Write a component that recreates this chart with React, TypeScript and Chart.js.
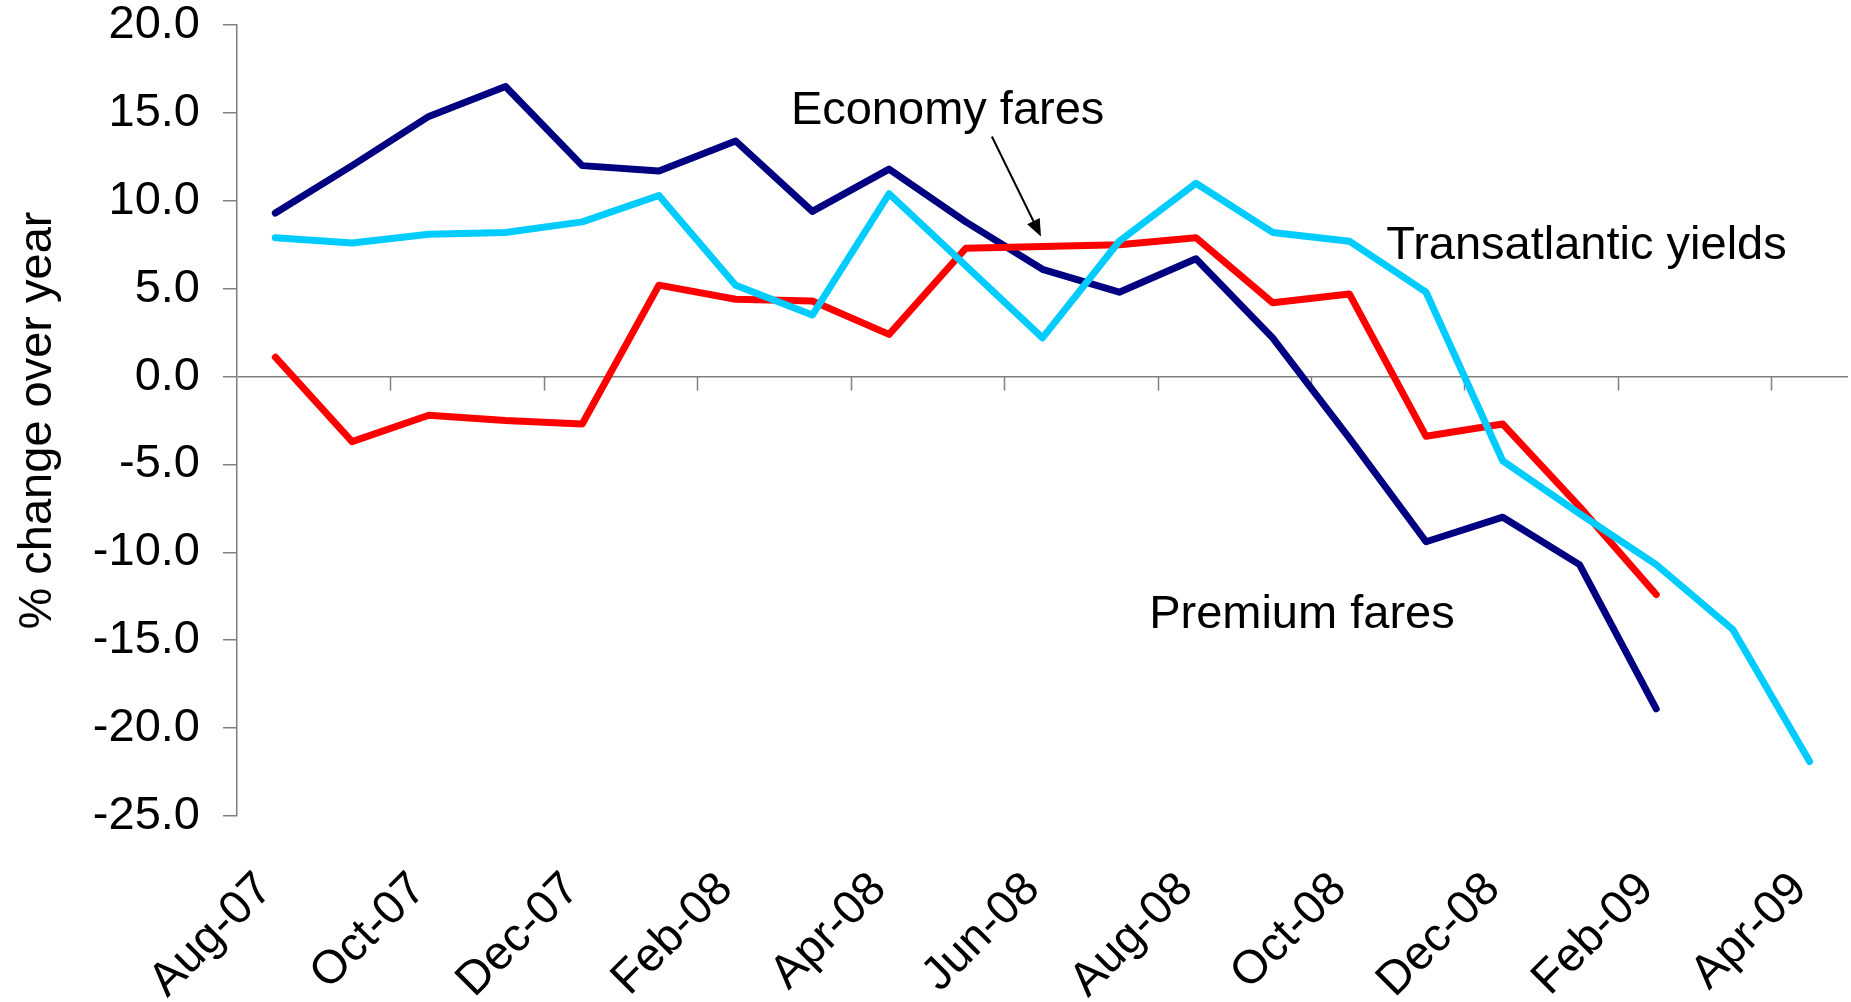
import React, { useEffect, useRef } from 'react';
import { Chart, registerables } from 'chart.js';

Chart.register(...registerables);

const months = [
  'Aug-07', 'Sep-07', 'Oct-07', 'Nov-07', 'Dec-07', 'Jan-08', 'Feb-08', 'Mar-08', 'Apr-08', 'May-08',
  'Jun-08', 'Jul-08', 'Aug-08', 'Sep-08', 'Oct-08', 'Nov-08', 'Dec-08', 'Jan-09', 'Feb-09', 'Mar-09', 'Apr-09',
];

const premiumFares = [9.3, 12.0, 14.8, 16.5, 12.0, 11.7, 13.4, 9.4, 11.8, 8.8, 6.1, 4.8, 6.7, 2.2, -3.5, -9.4, -8.0, -10.7, -18.9, null, null];
const economyFares = [1.1, -3.7, -2.2, -2.5, -2.7, 5.2, 4.4, 4.3, 2.4, 7.3, 7.4, 7.5, 7.9, 4.2, 4.7, -3.4, -2.7, -7.4, -12.4, null, null];
const transatlanticYields = [7.9, 7.6, 8.1, 8.2, 8.8, 10.3, 5.2, 3.5, 10.4, 6.3, 2.2, 7.7, 11.0, 8.2, 7.7, 4.8, -4.8, -7.8, -10.7, -14.4, -21.9];

const yMin = -25;
const yMax = 20;
const yStep = 5;
const yTitle = '% change over year';

// annotation labels: text, category position, value at baseline
const noteTexts = ['Economy fares', 'Transatlantic yields', 'Premium fares'];
const notePositions = [6.72, 14.48, 11.39];
const noteValues = [14.34, 6.66, -14.29];
// arrow from / to (category position, value)
const arrowFrom = [9.34, 13.66];
const arrowTo = [9.98, 7.97];

const FONT = '"Liberation Sans", Arial, Helvetica, sans-serif';
const FONT_SIZE = 47;
const AXIS_COLOR = '#808080';

const overlayPlugin = {
  id: 'overlay',
  beforeDatasetsDraw(chart: any) {
    const { ctx, scales } = chart;
    const x = scales.x;
    const y = scales.y;
    const y0 = y.getPixelForValue(0);
    ctx.save();
    ctx.strokeStyle = AXIS_COLOR;
    ctx.lineWidth = 1.5;
    for (let i = 2; i < months.length; i += 2) {
      const px = Math.round(x.getPixelForValue(i - 0.5)) + 0.5;
      ctx.beginPath();
      ctx.moveTo(px, y0);
      ctx.lineTo(px, y0 + 14);
      ctx.stroke();
    }
    ctx.restore();
  },
  afterDatasetsDraw(chart: any) {
    const { ctx, scales } = chart;
    const x = scales.x;
    const y = scales.y;
    ctx.save();
    ctx.fillStyle = '#000';
    ctx.font = `${FONT_SIZE}px ${FONT}`;
    ctx.textAlign = 'left';
    ctx.textBaseline = 'alphabetic';
    noteTexts.forEach((t, i) => {
      ctx.fillText(t, x.getPixelForValue(notePositions[i]), y.getPixelForValue(noteValues[i]));
    });
    const x1 = x.getPixelForValue(arrowFrom[0]);
    const y1 = y.getPixelForValue(arrowFrom[1]);
    const x2 = x.getPixelForValue(arrowTo[0]);
    const y2 = y.getPixelForValue(arrowTo[1]);
    const ang = Math.atan2(y2 - y1, x2 - x1);
    const headLen = 17;
    const headHalf = 7;
    const bx = x2 - headLen * Math.cos(ang);
    const by = y2 - headLen * Math.sin(ang);
    ctx.strokeStyle = '#000';
    ctx.lineWidth = 2;
    ctx.beginPath();
    ctx.moveTo(x1, y1);
    ctx.lineTo(bx, by);
    ctx.stroke();
    ctx.beginPath();
    ctx.moveTo(x2, y2);
    ctx.lineTo(bx + headHalf * Math.sin(ang), by - headHalf * Math.cos(ang));
    ctx.lineTo(bx - headHalf * Math.sin(ang), by + headHalf * Math.cos(ang));
    ctx.closePath();
    ctx.fill();
    ctx.restore();
  },
};

export default function App() {
  const canvasRef = useRef<HTMLCanvasElement | null>(null);

  useEffect(() => {
    if (!canvasRef.current) return;
    const lineStyle = {
      fill: false,
      tension: 0,
      pointRadius: 0,
      pointHoverRadius: 0,
      borderWidth: 7,
      borderCapStyle: 'round' as const,
      borderJoinStyle: 'round' as const,
    };
    const chart = new Chart(canvasRef.current, {
      type: 'line',
      data: {
        labels: months,
        datasets: [
          { label: 'Transatlantic yields', data: transatlanticYields, borderColor: '#00CCFF', backgroundColor: '#00CCFF', ...lineStyle },
          { label: 'Economy fares', data: economyFares, borderColor: '#FF0000', backgroundColor: '#FF0000', ...lineStyle },
          { label: 'Premium fares', data: premiumFares, borderColor: '#000080', backgroundColor: '#000080', ...lineStyle },
        ],
      },
      options: {
        responsive: false,
        animation: false,
        layout: { padding: { left: 0, top: 25, right: 3, bottom: 0 } },
        plugins: {
          legend: { display: false },
          tooltip: { enabled: false },
          title: { display: false },
        },
        scales: {
          x: {
            type: 'category',
            offset: true,
            grid: { display: false, drawTicks: false, tickLength: 0 },
            border: { display: false },
            ticks: {
              autoSkip: false,
              maxRotation: 45,
              minRotation: 45,
              padding: 46,
              labelOffset: -10,
              color: '#000',
              font: { family: FONT, size: FONT_SIZE },
              callback: (_v: any, i: number) => (i % 2 === 0 ? months[i] : ''),
            },
            afterFit: (scale: any) => {
              scale.height = 186;
              scale.paddingLeft = 0;
              scale.paddingRight = 0;
            },
          },
          y: {
            min: yMin,
            max: yMax,
            border: { display: true, color: AXIS_COLOR, width: 1.5 },
            grid: {
              drawOnChartArea: true,
              drawTicks: true,
              tickLength: 14,
              lineWidth: 1.5,
              tickColor: AXIS_COLOR,
              color: (c: any) => (c.tick && c.tick.value === 0 ? AXIS_COLOR : 'rgba(0,0,0,0)'),
            },
            ticks: {
              stepSize: yStep,
              padding: 23,
              color: '#000',
              font: { family: FONT, size: FONT_SIZE },
              callback: (v: any) => Number(v).toFixed(1),
            },
            title: {
              display: true,
              text: yTitle,
              color: '#000',
              font: { family: FONT, size: FONT_SIZE },
              padding: { top: 10, bottom: 0 },
            },
            afterFit: (scale: any) => {
              scale.width = 237;
              scale.paddingTop = 0;
              scale.paddingBottom = 0;
            },
          },
        },
      },
      plugins: [overlayPlugin],
    });
    return () => chart.destroy();
  }, []);

  return (
    <div style={{ position: 'fixed', left: 0, top: 0, width: 1851, height: 1002, background: '#fff' }}>
      <canvas ref={canvasRef} width={1851} height={1002} style={{ display: 'block' }} />
    </div>
  );
}
